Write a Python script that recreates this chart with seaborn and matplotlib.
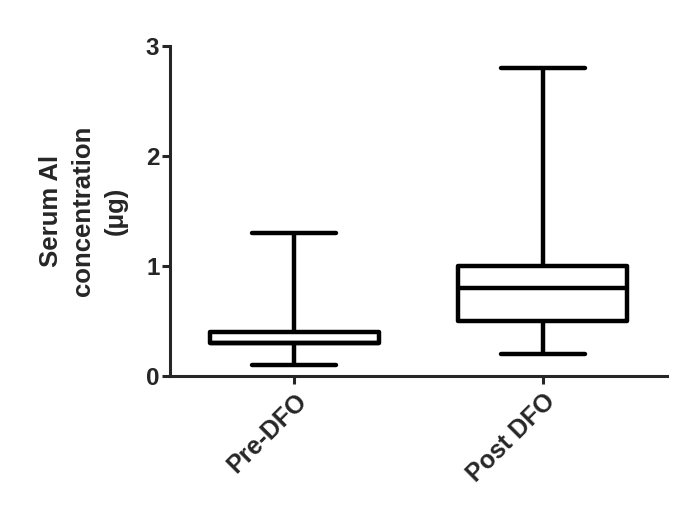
import matplotlib
matplotlib.use("Agg")
import matplotlib.pyplot as plt
import pandas as pd
import seaborn as sns

# Box-and-whisker summary (min, Q1, median, Q3, max)
GROUPS = ["Pre-DFO", "Post DFO"]
PRE_DFO = [0.1, 0.3, 0.3, 0.4, 1.3]
POST_DFO = [0.2, 0.5, 0.8, 1.0, 2.8]
Y_TICKS = [0, 1, 2, 3]
Y_LABEL = "Serum Al\nconcentration\n(\u03bcg)"

LW = 3.2

sns.set_style("ticks")
plt.rcParams.update({
    "font.family": ["Liberation Sans", "DejaVu Sans"],
    "font.weight": "bold",
    "axes.linewidth": 2.2,
    "xtick.major.width": 2.2,
    "ytick.major.width": 2.2,
    "xtick.major.size": 5.5,
    "ytick.major.size": 5.5,
    "xtick.direction": "out",
    "ytick.direction": "out",
})

df = pd.DataFrame({
    "group": [GROUPS[0]] * len(PRE_DFO) + [GROUPS[1]] * len(POST_DFO),
    "value": PRE_DFO + POST_DFO,
})

fig = plt.figure(figsize=(6.85, 5.13), dpi=100)
ax = fig.add_axes([0.248, 0.267, 0.726, 0.643])

sns.boxplot(
    ax=ax, data=df, x="group", y="value", order=GROUPS,
    whis=(0, 100), width=0.68, color="white", linecolor="black",
    linewidth=LW, showfliers=False,
    boxprops=dict(joinstyle="round"),
    medianprops=dict(color="black", linewidth=LW, solid_capstyle="butt"),
    whiskerprops=dict(linewidth=LW, solid_capstyle="butt"),
    capprops=dict(linewidth=LW, solid_capstyle="round"),
)

ax.set_xlim(-0.5, 1.5)
ax.set_ylim(0, 3)
ax.set_yticks(Y_TICKS)
ax.set_yticklabels([str(t) for t in Y_TICKS], fontsize=17.5, fontweight="bold")
ax.set_xticks(range(len(GROUPS)))
ax.set_xticklabels(GROUPS, fontsize=18, fontweight="bold",
                   rotation=45, ha="right", rotation_mode="anchor")
ax.tick_params(axis="x", pad=4)
ax.tick_params(axis="y", pad=2)
ax.set_xlabel("")
ax.set_ylabel(Y_LABEL, fontsize=18.5, fontweight="bold", linespacing=1.45)
ax.yaxis.set_label_coords(-0.085, 0.5)
sns.despine(ax=ax)

fig.savefig("out.png", dpi=100)
